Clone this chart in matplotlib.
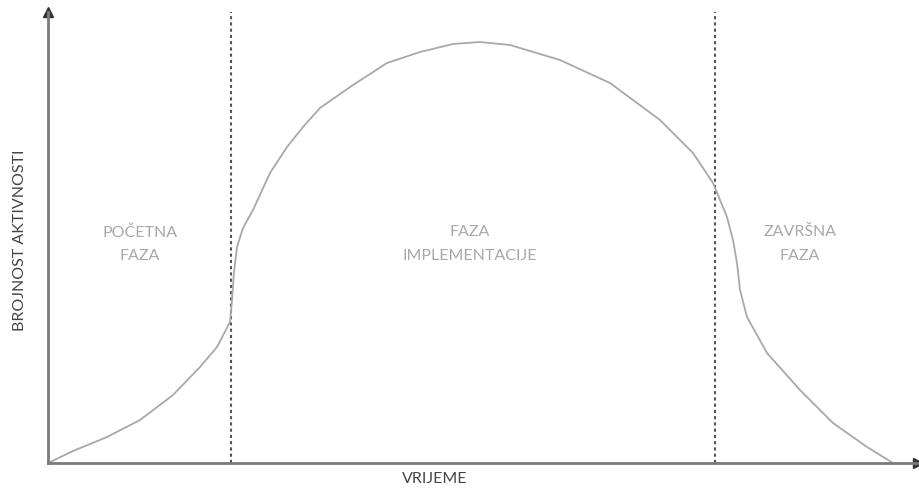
import matplotlib.pyplot as plt

# curve (time units, activity units)
vrijeme = [0, 25, 59, 92, 125, 152, 169, 182, 184, 186, 189, 195, 205, 222, 239, 255,
           272, 305, 339, 372, 405, 432, 462, 512, 562, 612, 645, 665, 679, 685, 689, 692,
           699, 719, 752, 785, 819, 845]
aktivnost = [0, 12, 26, 43, 68, 96, 116, 141, 163, 191, 216, 235, 253, 290, 316, 336,
             355, 378, 400, 411, 419, 421, 418, 403, 380, 343, 310, 280, 246, 223, 200, 173,
             146, 110, 73, 40, 16, 0]
granice = [183, 667]
faze = ["POČETNA\nFAZA", "FAZA\nIMPLEMENTACIJE", "ZAVRŠNA\nFAZA"]
faze_x = [92, 422, 752]

fig = plt.figure(figsize=(9.2, 4.96), dpi=100)
ax = fig.add_axes([48/920, 33/496, 870/920, 451/496])
ax.set_xlim(0, 870)
ax.set_ylim(0, 451)

axis_col = '#7a7a7a'
for s in ['top', 'right']:
  ax.spines[s].set_visible(False)
for s in ['left', 'bottom']:
  ax.spines[s].set_color(axis_col)
  ax.spines[s].set_linewidth(2)
ax.set_xticks([])
ax.set_yticks([])

# arrow heads
ax.plot([0], [1], marker='^', color='#333333', markersize=7, transform=ax.transAxes, clip_on=False)
ax.plot([1], [0], marker='>', color='#333333', markersize=7, transform=ax.transAxes, clip_on=False)

for g in granice:
  ax.plot([g, g], [0, 451], color='#555555', linestyle=(0, (1.5, 1.5)), linewidth=1.5)

ax.plot(vrijeme, aktivnost, color='#a8a8a8', linewidth=1.3, solid_joinstyle='round')

for t, xp in zip(faze, faze_x):
  ax.text(xp, 219, t, ha='center', va='center', fontsize=11.5, color='#a8a8a8',
          family='Lato', linespacing=1.85)

fig.text(20/920, 1 - 240/496, "BROJNOST AKTIVNOSTI", rotation=90, ha='center', va='center',
         fontsize=11.5, color='#444444', family='Lato')
fig.text(435/920, 1 - 479/496, "VRIJEME", ha='center', va='center',
         fontsize=11.5, color='#444444', family='Lato')

fig.savefig('out.png', dpi=100)
